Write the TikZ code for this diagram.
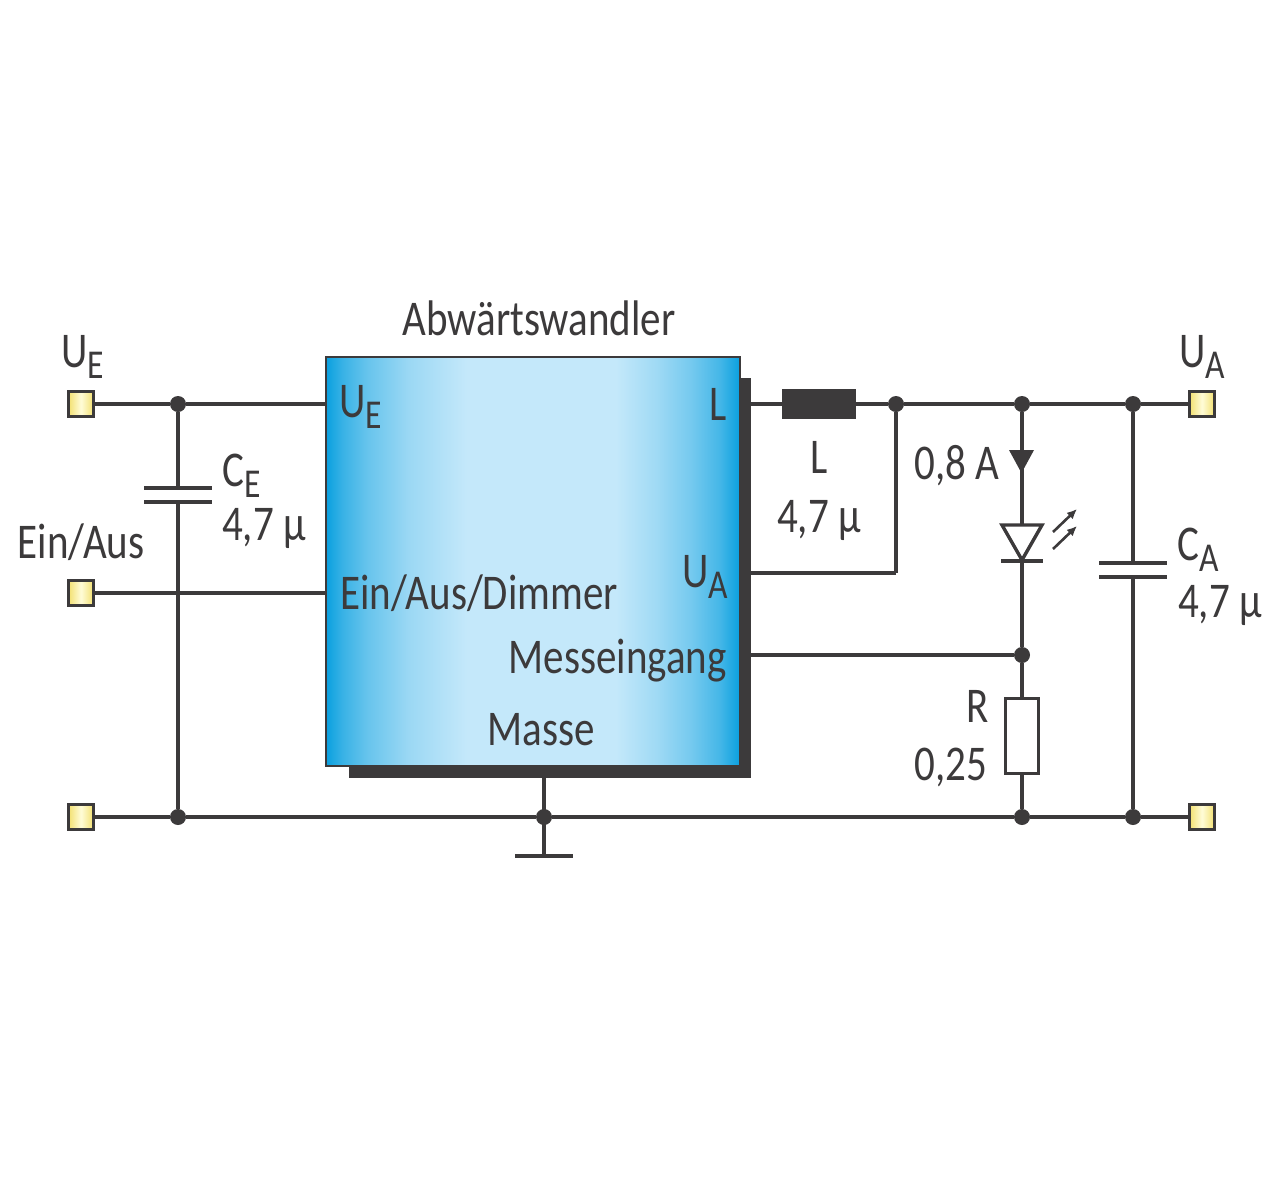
\documentclass[tikz,border=0pt]{standalone}
\usepackage{fontspec}
\setmainfont[FakeStretch=0.82]{Carlito}
\usepackage{xcolor}
\usepackage{tikz}
\usetikzlibrary{positioning}
\usetikzlibrary{arrows.meta}
\definecolor{wirecol}{HTML}{3C3A3B}
\definecolor{icdeep}{HTML}{0AA0DF}
\definecolor{iclight}{HTML}{C4E8FA}
\definecolor{termside}{HTML}{F3E070}
\definecolor{termmid}{HTML}{FFFCD8}
\pgfdeclarehorizontalshading{icshade}{100bp}{
	color(0bp)=(icdeep); color(25bp)=(icdeep); color(27bp)=(icdeep!75!iclight); color(30bp)=(icdeep!50!iclight);
	color(35bp)=(icdeep!22!iclight); color(42bp)=(iclight); color(60bp)=(iclight); color(65bp)=(icdeep!20!iclight);
	color(69bp)=(icdeep!42!iclight); color(72.5bp)=(icdeep!68!iclight); color(75bp)=(icdeep); color(100bp)=(icdeep)}
\newcommand{\tief}[1]{{\fontsize{20.5}{21}\selectfont\raisebox{-5.5pt}{#1}}}
\tikzset{
	x=0.5pt, y=-0.5pt,
	wire/.style={draw=wirecol, line width=1.7pt},
	dot/.style={circle, fill=wirecol, inner sep=0pt, minimum size=8pt},
	terminal/.style={draw=wirecol, line width=1.5pt, inner sep=0pt, minimum size=12.5pt,
		left color=termside, right color=termside, middle color=termmid},
	plate/.style={draw=wirecol, line width=1.8pt},
	ray/.style={draw=wirecol, line width=1.3pt, -{Latex[length=5pt,width=4.5pt]}},
	lbl/.style={anchor=base, inner sep=0pt, text=wirecol, font=\fontsize{25}{28}\selectfont}
}
\begin{document}
\begin{tikzpicture}
	\useasboundingbox[fill=white] (0,0) rectangle (1280,1190);
	\node[fill=wirecol, inner sep=0pt, minimum width=201pt, minimum height=200pt] (back) at (550,578) {};
	\node[draw=wirecol, line width=1.2pt, shading=icshade, inner sep=0pt, minimum width=207pt, minimum height=204.5pt] (ic) at (533,561.5) {};
	\node[terminal] (inE) at (81,404) {};
	\node[terminal] (inS) at (81,593) {};
	\node[terminal] (inG) at (81,817) {};
	\node[terminal] (outA) at (1202,404) {};
	\node[terminal] (outG) at (1202,817) {};
	\node[dot] (d1) at (178,404) {};
	\node[dot] (d2) at (178,817) {};
	\node[dot] (d3) at (544,817) {};
	\node[dot] (d4) at (896,404) {};
	\node[dot] (d5) at (1022,404) {};
	\node[dot] (d6) at (1133,404) {};
	\node[dot] (d7) at (1022,655) {};
	\node[dot] (d8) at (1022,817) {};
	\node[dot] (d9) at (1133,817) {};
	\node[fill=wirecol, inner sep=0pt, minimum width=37pt, minimum height=15pt] (coil) at (819,404) {};
	\node[draw=wirecol, line width=1.5pt, fill=white, inner sep=0pt, minimum width=16.5pt, minimum height=37.5pt] (res) at (1022,736) {};
	\coordinate (gnd) at (544,856);
	\coordinate (ce1) at (178,488);
	\coordinate (ce2) at (178,502);
	\coordinate (ca1) at (1133,563);
	\coordinate (ca2) at (1133,577);
	\coordinate (ledtop) at (1022,524);
	\coordinate (ledbot) at (1022,561);
	\coordinate (corner) at (d4 |- 0,573);
	\draw[wire] (inE) -- (d1);
	\draw[wire] (d1) -- (ic.west |- d1);
	\draw[wire] (inS) -- (ic.west |- inS);
	\draw[wire] (inG) -- (d2);
	\draw[wire] (d2) -- (d3);
	\draw[wire] (d3) -- (d8);
	\draw[wire] (d8) -- (d9);
	\draw[wire] (d9) -- (outG);
	\draw[wire] (d1) -- (ce1);
	\draw[wire] (ce2) -- (d2);
	\draw[wire] (back.east |- coil) -- (coil);
	\draw[wire] (coil) -- (d4);
	\draw[wire] (d4) -- (d5);
	\draw[wire] (d5) -- (d6);
	\draw[wire] (d6) -- (outA);
	\draw[wire] (d4) -- (corner);
	\draw[wire] (corner) -- (back.east |- corner);
	\draw[wire] (back.east |- d7) -- (d7);
	\draw[wire] (d5) -- (ledtop);
	\draw[wire] (ledbot) -- (d7);
	\draw[wire] (d7) -- (res);
	\draw[wire] (res) -- (d8);
	\draw[wire] (d6) -- (ca1);
	\draw[wire] (ca2) -- (d9);
	\draw[wire] (back.south -| d3) -- (gnd);
	\draw[plate] (144,488) -- (212,488);
	\draw[plate] (144,502) -- (212,502);
	\draw[plate] (1099,563) -- (1167,563);
	\draw[plate] (1099,577) -- (1167,577);
	\draw[plate] (515,856) -- (573,856);
	\fill[wirecol] (1009,450) -- (1034,450) -- (1021.5,473) -- cycle;
	\draw[wire, line join=miter] (1002,525) -- (1042,525) -- (1022,560) -- cycle;
	\draw[plate] (1001,561) -- (1043,561);
	\draw[ray] (1053,532) -- (1077,509);
	\draw[ray] (1053,549) -- (1077,526);
	\node[lbl] (title) at (539,335) {Abwärtswandler};
	\node[lbl] (tE) at (83,367) {U\tief{E}};
	\node[lbl] (tS) at (81,558) {Ein/Aus};
	\node[lbl] (tCE) at (242,486) {C\tief{E}};
	\node[lbl] (vCE) at (264,540) {4,7 µ};
	\node[lbl] (pE) at (361,417) {U\tief{E}};
	\node[lbl, anchor=base west] (pS) at (340,609) {Ein/Aus/Dimmer};
	\node[lbl] (pL) at (718,420) {L};
	\node[lbl] (pA) at (705,587) {U\tief{A}};
	\node[lbl, anchor=base east] (pM) at (727,673) {Messeingang};
	\node[lbl] (pG) at (541,745) {Masse};
	\node[lbl] (tL) at (819,473) {L};
	\node[lbl] (vL) at (819,532) {4,7 µ};
	\node[lbl] (tI) at (957,479) {0,8 A};
	\node[lbl] (tR) at (978,722) {R};
	\node[lbl] (vR) at (951,780) {0,25};
	\node[lbl] (tA) at (1202,367) {U\tief{A}};
	\node[lbl] (tCA) at (1198,560) {C\tief{A}};
	\node[lbl] (vCA) at (1220,617) {4,7 µ};
\end{tikzpicture}
\end{document}
